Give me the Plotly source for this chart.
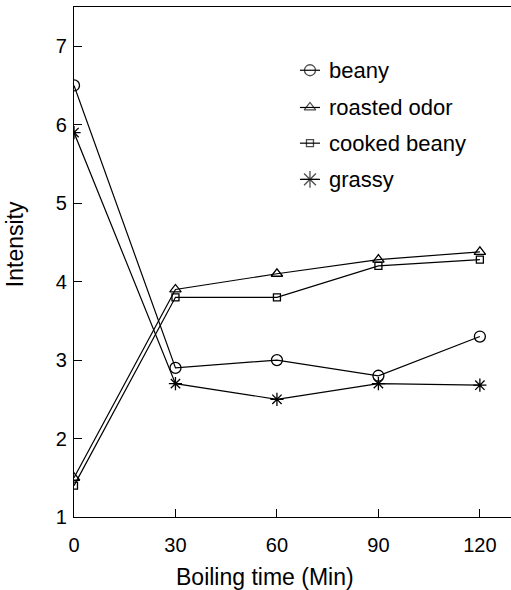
import plotly.graph_objects as go

# Boiling time (min) and sensory intensity scores
boiling_time = [0, 30, 60, 90, 120]
beany = [6.5, 2.9, 3.0, 2.8, 3.3]
roasted_odor = [1.5, 3.9, 4.1, 4.28, 4.38]
cooked_beany = [1.4, 3.8, 3.8, 4.2, 4.28]
grassy = [5.9, 2.7, 2.5, 2.7, 2.68]

x_ticks = [0, 30, 60, 90, 120]
y_ticks = [1, 2, 3, 4, 5, 6, 7]

series = [
    ("beany", beany, "circle-open", 11),
    ("roasted odor", roasted_odor, "triangle-up-open", 10),
    ("cooked beany", cooked_beany, "square-open", 7),
    ("grassy", grassy, "asterisk-open", 11),
]

font_family = "Liberation Sans, Arial, sans-serif"

fig = go.Figure()
for name, vals, sym, sz in series:
    fig.add_trace(go.Scatter(
        x=boiling_time, y=vals, name=name, mode="lines+markers",
        line=dict(color="black", width=1.2),
        marker=dict(symbol=sym, size=sz, color="black",
                    line=dict(color="black", width=1.3)),
        showlegend=False,
    ))

# Key drawn on an overlay axis spanning the plot area (0..1 both ways):
# a short line stub with the series marker in its middle, then the label.
key_x0, key_xm, key_x1, key_text_x = 0.517, 0.540, 0.563, 0.58
key_y = [0.876, 0.803, 0.733, 0.662]
annotations = []
for (name, _, sym, sz), ky in zip(series, key_y):
    key_size = sz + 3 if sym.startswith("asterisk") else sz
    fig.add_trace(go.Scatter(
        x=[key_x0, key_xm, key_x1], y=[ky, ky, ky], mode="lines+markers",
        xaxis="x2", yaxis="y2", showlegend=False, hoverinfo="skip",
        line=dict(color="black", width=1.2),
        marker=dict(symbol=sym, size=[0, key_size, 0], color="black",
                    line=dict(color="black", width=1.3)),
    ))
    annotations.append(dict(
        text=name, xref="x2", yref="y2", x=key_text_x, y=ky,
        xanchor="left", yanchor="middle", showarrow=False,
        font=dict(family=font_family, size=22, color="black"),
    ))

annotations += [
    dict(text="Boiling time (Min)", xref="paper", yref="paper",
         x=0.437, y=-0.118, xanchor="center", yanchor="middle",
         showarrow=False,
         font=dict(family=font_family, size=23, color="black")),
    dict(text="Intensity", xref="paper", yref="paper",
         x=-0.135, y=0.535, xanchor="center", yanchor="middle",
         textangle=-90, showarrow=False,
         font=dict(family=font_family, size=23, color="black")),
]

fig.update_layout(
    width=511, height=590,
    margin=dict(l=74, r=0, t=7, b=73),
    plot_bgcolor="white", paper_bgcolor="white",
    showlegend=False,
    xaxis=dict(
        range=[0, 129.2], tickvals=x_ticks, ticks="inside", ticklen=8,
        tickcolor="black", showline=True, linecolor="black", linewidth=1.2,
        mirror=True, showgrid=False, zeroline=False, ticklabelstandoff=10,
        tickfont=dict(family=font_family, size=20, color="black"),
    ),
    yaxis=dict(
        range=[1, 7.5], tickvals=y_ticks, ticks="inside", ticklen=8,
        tickcolor="black", showline=True, linecolor="black", linewidth=1.2,
        showgrid=False, zeroline=False, ticklabelstandoff=2,
        tickfont=dict(family=font_family, size=20, color="black"),
    ),
    xaxis2=dict(range=[0, 1], overlaying="x", visible=False, fixedrange=True),
    yaxis2=dict(range=[0, 1], overlaying="y", visible=False, fixedrange=True),
    annotations=annotations,
)

fig.write_html("out.html")
